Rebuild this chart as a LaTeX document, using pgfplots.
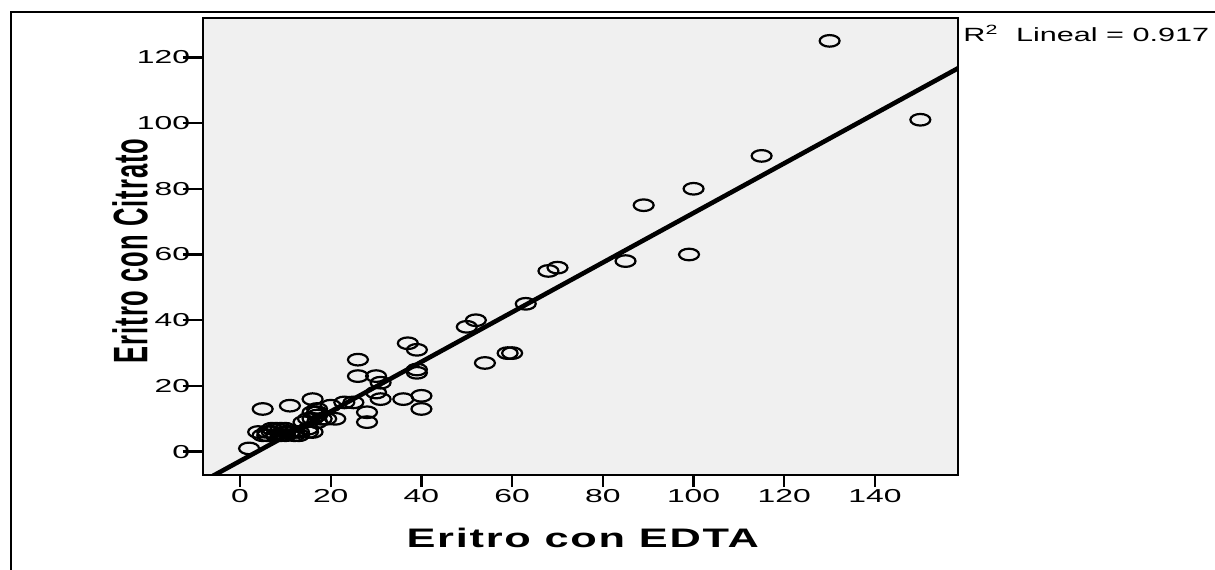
\documentclass[border=0pt]{standalone}
\usepackage{fontspec}
\setmainfont{Liberation Sans}
\newfontfamily\lblfont[LetterSpace=4]{Liberation Sans}
\usepackage{pgfplots}
\pgfplotsset{compat=1.18}
\definecolor{plotbg}{HTML}{F0F0F0}

\begin{document}
\begin{tikzpicture}
\begin{axis}[
  at={(0,0)}, anchor=south west,
  scale only axis, width=377.5bp, height=228.5bp,
  xmin=-8.16, xmax=158.3, ymin=-7.09, ymax=131.96,
  xtick={0,20,...,140}, ytick={0,20,...,120},
  tick pos=left, tick align=outside,
  axis line style={line width=1.2bp},
  x tick style={line width=1.2bp, black, /pgfplots/major tick length=6bp},
  y tick style={line width=1.2bp, black, /pgfplots/major tick length=10bp},
  axis background/.style={fill=plotbg},
  /pgf/number format/assume math mode=true,
  xticklabel={\scalebox{1.7}[1]{\axisdefaultticklabel}},
  yticklabel={\scalebox{1.7}[1]{\axisdefaultticklabel}},
  ticklabel style={font=\fontsize{9.4}{10}\selectfont, inner sep=0pt},
  xticklabel style={anchor=north, yshift=-3bp},
  yticklabel style={anchor=east, xshift=-2bp},
  xlabel={\scalebox{1.7}[1.05]{\lblfont\bfseries Eritro con EDTA}},
  ylabel={\scalebox{1}[1.9]{\lblfont\bfseries Eritro con Citrato}},
  label style={font=\fontsize{12.8}{14}\selectfont, inner sep=0pt},
  xlabel style={at={(rel axis cs:0.503,0)}, anchor=base, yshift=-36bp},
  ylabel style={at={(axis description cs:-0.0967,0.49)}, anchor=center},
]
\addplot[only marks, mark=o, mark size=2.9bp,
  mark options={xscale=1.72, line width=1.1bp, black}] coordinates {
  (130,125) (150,101) (115,90) (100,80) (89,75) (85,58) (99,60)
  (70,56) (68,55) (63,45) (52,40) (50,38) (60,30) (59,30) (54,27)
  (37,33) (39,31) (26,28) (39,25) (39,24) (26,23) (30,23) (31,21)
  (30,18) (31,16) (36,16) (40,17) (40,13) (28,12) (28,9) (23,15)
  (25,15) (20,14) (2,1) (5,13) (11,14) (16,16) (16,12) (17,12)
  (17,11) (16,10) (19,10) (21,10) (15,10) (14,9) (17,9) (15,7)
  (16,6) (15,6) (4,6) (5,5) (6,6) (7,7) (8,7) (9,7) (10,7) (10,6)
  (8,5) (9,5) (10,5) (11,6) (12,6) (12,5) (13,5) (13,6) (7,6)
  (6,5) (18,10) (17,13)
};
\addplot[black, line width=2.3bp] coordinates {(-10,-10.4) (160,117.95)};
\end{axis}
\node[anchor=base west, inner sep=0pt, font=\fontsize{9.6}{11}\selectfont]
  at (380bp,216.7bp) {\scalebox{1.6}[1]{R\textsuperscript{2}\ \ Lineal = 0.917}};
\draw[line width=1bp] (-96bp,-47.5bp) -- (-96bp,231.5bp) -- (506bp,231.5bp);
\pgfresetboundingbox
\path (-101.5bp,-47.5bp) rectangle (506bp,237.5bp);
\end{tikzpicture}
\end{document}
